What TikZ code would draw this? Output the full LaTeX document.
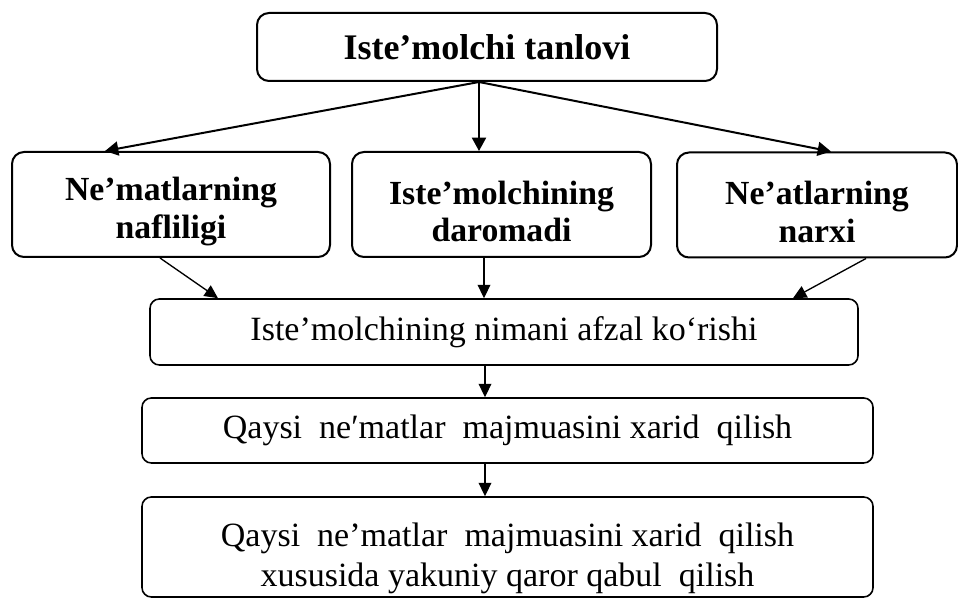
\documentclass[tikz,border=0pt]{standalone}
\usepackage{fontspec}
\setmainfont{Liberation Serif}
\usetikzlibrary{arrows.meta,calc}
\tikzset{
    headbox/.style={draw, line width=1.5pt, rounded corners=9pt,
                    align=center, inner sep=0pt,
                    font=\fontsize{27}{30}\selectfont\bfseries},
    factor/.style={draw, line width=1.5pt, rounded corners=9pt,
                   align=center, inner sep=0pt, minimum height=78.75pt,
                   font=\fontsize{25.3}{28}\selectfont\bfseries},
    stage/.style={draw, line width=1.2pt, rounded corners=7pt,
                  align=center, inner sep=0pt, minimum width=#1,
                  font=\fontsize{25.5}{29.5}\selectfont},
}

\begin{document}
\begin{tikzpicture}[
    x=0.75pt, y=-0.75pt,
    arr/.style={-{Triangle[length=10pt, width=10.5pt]}, line width=1.5pt},
    thin arr/.style={-{Triangle[length=10pt, width=9.5pt]}, line width=1pt}
]
    \useasboundingbox (0,0) rectangle (958,598);
    \node[headbox, minimum width=345pt, minimum height=51pt] (top) at (487,47) {Iste’molchi tanlovi};
    \node[factor, minimum width=238.5pt] (left) at (171,204.5) {\rule{0pt}{28pt}Ne’matlarning\\nafliligi};
    \node[factor, minimum width=224.25pt] (mid) at (501.5,204.5) {\rule{0pt}{28pt}Iste’molchining\\daromadi};
    \node[factor, minimum width=210pt] (right) at (817,205) {\rule{0pt}{28pt}Ne’atlarning\\narxi};
    \node[stage=531pt, minimum height=49.5pt] (afzal) at (504,332) {Iste’molchining nimani afzal ko‘rishi};
    \node[stage=548.25pt, minimum height=48.75pt] (xarid) at (507.5,430.5) {Qaysi~ ne′matlar~ majmuasini xarid~ qilish};
    \node[stage=548.25pt, minimum height=75pt] (qaror) at (507.5,547) {\rule{0pt}{35pt}Qaysi~ ne’matlar~ majmuasini xarid~ qilish\\xususida yakuniy qaror qabul~ qilish};
    % from the choice to the three factors
    \coordinate (o) at ($(top.south)+(-8,0)$);
    \draw[arr] (o) -- ($(left.north)+(-66,0)$);
    \draw[arr] (o) -- (o |- mid.north);
    \draw[arr] (o) -- ($(right.north)+(14,0)$);
    % factors into preference
    \draw[thin arr] ($(left.south)+(-11,0)$) -- ($(afzal.north)+(-286,0)$);
    \coordinate (m) at ($(mid.south)+(-17.5,0)$);
    \draw[thin arr] (m) -- (m |- afzal.north);
    \draw[thin arr] ($(right.south)+(49,0)$) -- ($(afzal.north)+(289,0)$);
    % down the chain
    \coordinate (p) at ($(afzal.south)+(-19,0)$);
    \draw[thin arr] (p) -- (p |- xarid.north);
    \coordinate (q) at ($(xarid.south)+(-22.5,0)$);
    \draw[thin arr] (q) -- (q |- qaror.north);
\end{tikzpicture}
\end{document}
